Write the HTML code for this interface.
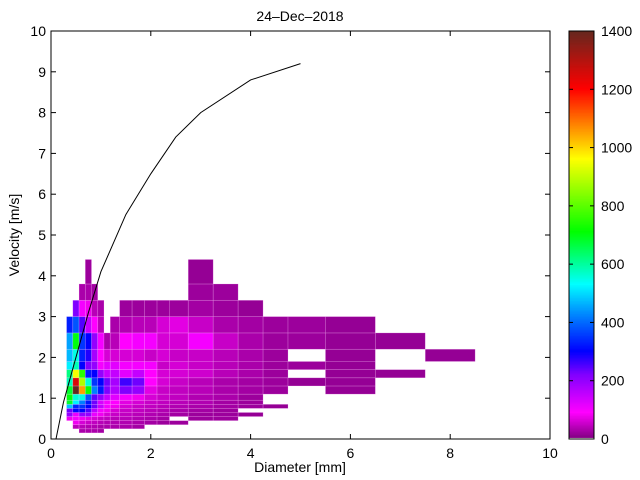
<!DOCTYPE html>
<html><head><meta charset="utf-8"><style>
html,body{margin:0;padding:0;background:#fff;}
svg{display:block;font-family:"Liberation Sans",sans-serif;}
</style></head><body>
<svg id="chart" width="640" height="480">
<text x="300" y="21" font-size="14" text-anchor="middle">24–Dec–2018</text>
<text x="300" y="472" font-size="14" text-anchor="middle">Diameter [mm]</text>
<text transform="translate(19,235) rotate(-90)" font-size="14" text-anchor="middle">Velocity [m/s]</text>
<g id="cells"></g>
<g id="curve"></g>
<g id="axes"></g>
<g id="cbar"></g>
</svg>
<script>
// Diameter vertices (mm)
const xEdges = [0.312,0.437,0.562,0.687,0.812,0.937,1.062,1.187,1.375,1.625,1.875,2.125,2.375,2.75,3.25,3.75,4.25,4.75,5.5,6.5,7.5,8.5];
// Velocity vertices (m/s)
const yEdges = [0.15,0.25,0.35,0.45,0.55,0.65,0.75,0.85,0.95,1.1,1.3,1.5,1.7,1.9,2.2,2.6,3.0,3.4,3.8,4.4];
// counts: rows (velocity bins low->high), columns (diameter bins)
const counts = [
[0,0,30,30,30,25,0,0,0,0,0,0,0,0,0,0,0,0,0,0,0],
[0,40,40,35,35,30,30,30,30,25,0,0,0,0,0,0,0,0,0,0,0],
[0,80,60,50,45,40,35,35,35,30,25,20,20,0,0,0,0,0,0,0,0],
[80,100,80,70,60,50,45,40,40,35,30,25,0,20,20,0,0,0,0,0,0],
[200,110,200,200,110,80,60,50,45,40,35,30,25,20,20,15,0,0,0,0,0],
[230,300,300,250,160,100,80,60,50,45,40,35,30,25,20,0,0,0,0,0,0],
[480,330,350,300,230,150,100,80,60,50,45,40,35,30,25,20,15,0,0,0,0],
[680,520,420,320,230,130,100,90,70,60,50,45,40,35,25,20,0,0,0,0,0],
[700,560,550,380,240,200,150,120,100,80,60,50,45,35,30,20,0,0,0,0,0],
[680,1400,1050,720,420,320,220,170,220,200,70,50,45,40,30,25,20,0,15,0,0],
[580,1250,880,560,350,300,230,180,260,230,90,60,50,40,30,25,20,15,15,0,0],
[620,950,750,320,300,200,150,150,120,150,90,60,60,55,40,30,20,0,15,15,0],
[520,580,300,220,200,100,120,120,100,100,100,50,60,50,40,30,20,20,15,0,0],
[470,550,330,280,180,90,60,60,60,60,50,60,50,50,40,30,20,0,15,0,15],
[450,700,350,300,200,100,30,40,90,100,100,60,60,100,50,30,20,20,15,15,0],
[330,380,250,150,90,40,0,30,35,40,40,60,70,50,30,25,20,20,15,0,0],
[0,220,100,80,40,30,0,0,20,20,20,20,20,25,20,15,0,0,0,0,0],
[0,0,30,30,25,0,0,0,0,0,0,0,0,20,20,0,0,0,0,0,0],
[0,0,0,20,0,0,0,0,0,0,0,0,0,15,0,0,0,0,0,0,0]
];
// Fall speed curve points
const curveD = [0.1,0.25,0.5,0.75,1,1.5,2,2.5,3,4,5];
const curveV = [0,0.9,2.0,3.1,4.1,5.5,6.5,7.4,8.0,8.8,9.2];
const xTicks = [0,2,4,6,8,10];
const yTicks = [0,1,2,3,4,5,6,7,8,9,10];
const cTicks = [0,200,400,600,800,1000,1200,1400];

const NS="http://www.w3.org/2000/svg";
const X0=51,X1=550,Y0=439,Y1=31;
const sx=d=>X0+(d/10)*(X1-X0);
const sy=v=>Y0-(v/10)*(Y0-Y1);
const CB={x:569,w:25,y0:439,y1:31,max:1400};
const sc=c=>CB.y0-(c/CB.max)*(CB.y0-CB.y1);
const stops=[[0,[128,0,128]],[90,[255,0,255]],[220,[128,0,255]],[300,[0,0,255]],[420,[0,128,255]],[530,[0,255,255]],[710,[0,255,0]],[960,[255,255,0]],[1080,[255,128,0]],[1200,[255,0,0]],[1400,[100,40,30]]];
function cmap(v){
  for(let i=1;i<stops.length;i++){
    if(v<=stops[i][0]){const a=stops[i-1],b=stops[i];const t=(v-a[0])/(b[0]-a[0]);
      return 'rgb('+a[1].map((c,k)=>Math.round(c+(b[1][k]-c)*t)).join(',')+')';}
  }
  return 'rgb(100,40,30)';
}
function mk(tag,attrs,parent){const e=document.createElementNS(NS,tag);for(const k in attrs)e.setAttribute(k,attrs[k]);parent.appendChild(e);return e;}

const cells=document.getElementById('cells');
counts.forEach((row,r)=>{row.forEach((v,c)=>{
  if(!v)return;
  const x=sx(xEdges[c]),x2=sx(xEdges[c+1]),y=sy(yEdges[r+1]),y2=sy(yEdges[r]);
  const e=mk('rect',{x:x,y:y,width:x2-x,height:y2-y,fill:cmap(v),stroke:'rgba(255,200,255,0.35)','stroke-width':0.6},cells);
  
  
});});

const curve=document.getElementById('curve');
const pl=mk('polyline',{points:curveD.map((d,i)=>sx(d)+','+sy(curveV[i])).join(' '),fill:'none',stroke:'#000','stroke-width':1},curve);



const axes=document.getElementById('axes');
const box=mk('rect',{x:X0,y:Y1,width:X1-X0,height:Y0-Y1,fill:'none',stroke:'#000','stroke-width':1},axes);


xTicks.forEach(t=>{
  const x=sx(t);
  mk('line',{x1:x,x2:x,y1:Y0,y2:Y0-5,stroke:'#000'},axes);
  mk('line',{x1:x,x2:x,y1:Y1,y2:Y1+5,stroke:'#000'},axes);
  const tx=mk('text',{x:x,y:458,'font-size':14,'text-anchor':'middle'},axes);
  tx.textContent=t;
  
  
});
yTicks.forEach(t=>{
  const y=sy(t);
  mk('line',{x1:X0,x2:X0+5,y1:y,y2:y,stroke:'#000'},axes);
  mk('line',{x1:X1,x2:X1-5,y1:y,y2:y,stroke:'#000'},axes);
  const tx=mk('text',{x:46,y:y+5,'font-size':14,'text-anchor':'end'},axes);
  tx.textContent=t;
  
  
});

const cbar=document.getElementById('cbar');
for(let v=0;v<CB.max;v+=5){
  const y=sc(v+5),h=sc(v)-sc(v+5);
  mk('rect',{x:CB.x,y:y,width:CB.w,height:h+0.4,fill:v<5?'#fff':cmap(v)},cbar);
}
const cf=mk('rect',{x:CB.x,y:CB.y1,width:CB.w,height:CB.y0-CB.y1,fill:'none',stroke:'#000'},cbar);


cTicks.forEach(t=>{
  const y=sc(t);
  mk('line',{x1:CB.x+CB.w,x2:CB.x+CB.w-4,y1:y,y2:y,stroke:'#000'},cbar);
  mk('line',{x1:CB.x,x2:CB.x+4,y1:y,y2:y,stroke:'#000'},cbar);
  const tx=mk('text',{x:601,y:y+5,'font-size':14},cbar);
  tx.textContent=t;
  
  
});
</script>
</body></html>
